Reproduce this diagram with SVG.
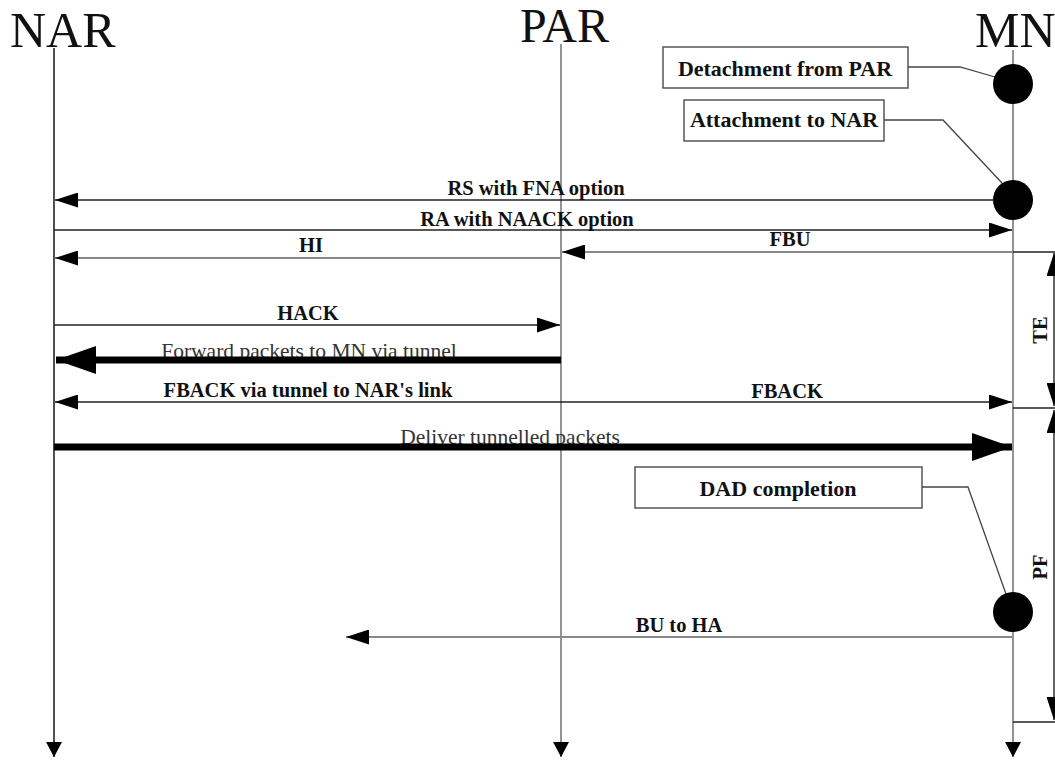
<svg xmlns="http://www.w3.org/2000/svg" width="1055" height="761" viewBox="0 0 1055 761">
  <style>
    .title { font-family: "Liberation Serif", "Times New Roman", serif; font-size: 50px; fill: #111; }
    .lbl { font-family: "Liberation Serif", "Times New Roman", serif; font-size: 20.5px; font-weight: bold; fill: #111; text-anchor: middle; }
    .plain { font-family: "Liberation Serif", "Times New Roman", serif; font-size: 21.5px; fill: #333; text-anchor: middle; }
    .note { font-family: "Liberation Serif", "Times New Roman", serif; font-size: 22px; font-weight: bold; fill: #111; text-anchor: middle; }
    .box { fill: #fff; stroke: #555; stroke-width: 1.5; }
    .lead { fill: none; stroke: #444; stroke-width: 1.3; }
    .life-dark { stroke: #222; stroke-width: 1.6; }
    .life-grey { stroke: #888; stroke-width: 1.8; }
    .msg-dark { stroke: #222; stroke-width: 1.4; fill: none; }
    .msg-grey { stroke: #888; stroke-width: 2; fill: none; }
    .thick { stroke: #000; stroke-width: 7; fill: none; }
    .dot { fill: #000; }
  </style>
  <defs>
    <marker id="ah" markerUnits="userSpaceOnUse" markerWidth="23" markerHeight="15" refX="23" refY="7.5" orient="auto-start-reverse">
      <path d="M0,0 L23,7.5 L0,15 z" fill="#000"/>
    </marker>
    <marker id="lh" markerUnits="userSpaceOnUse" markerWidth="16" markerHeight="16" refX="15" refY="8" orient="auto">
      <path d="M0,0 L15,8 L0,16 z" fill="#000"/>
    </marker>
    <marker id="big" markerUnits="userSpaceOnUse" markerWidth="40" markerHeight="28" refX="40" refY="14" orient="auto">
      <path d="M0,0 L40,14 L0,28 z" fill="#000"/>
    </marker>
  </defs>

  <rect width="1055" height="761" fill="#fff"/>

  <!-- Lifelines with their titles -->
  <g id="NAR">
    <text class="title" x="10" y="47">NAR</text>
    <line class="life-dark" x1="54" y1="48" x2="54" y2="757" marker-end="url(#lh)"/>
  </g>
  <g id="PAR">
    <text class="title" x="520" y="42" style="font-size:48px">PAR</text>
    <line class="life-grey" x1="561" y1="44" x2="561" y2="757" marker-end="url(#lh)"/>
  </g>
  <g id="MN">
    <text class="title" x="975" y="47">MN</text>
    <line class="life-grey" x1="1013" y1="50" x2="1013" y2="757" marker-end="url(#lh)"/>
  </g>

  <!-- Event notes on the MN lifeline -->
  <g id="detachment">
    <rect class="box" x="663" y="47" width="245" height="41"/>
    <text class="note" x="785" y="76">Detachment from PAR</text>
    <polyline class="lead" points="908,67 960,67 995,77"/>
    <circle class="dot" cx="1013" cy="84" r="20"/>
  </g>
  <g id="attachment">
    <rect class="box" x="684" y="100" width="200" height="41"/>
    <text class="note" x="784" y="127">Attachment to NAR</text>
    <polyline class="lead" points="884,120 943,120 1002,183"/>
    <circle class="dot" cx="1013" cy="200" r="20"/>
  </g>
  <g id="dad">
    <rect class="box" x="635" y="467" width="287" height="41"/>
    <text class="note" x="778" y="496">DAD completion</text>
    <polyline class="lead" points="922,487 968,487 1006,594"/>
    <circle class="dot" cx="1013" cy="612" r="20"/>
  </g>

  <!-- Time intervals -->
  <g id="TE">
    <line class="msg-dark" x1="1013" y1="252" x2="1055" y2="252"/>
    <line class="msg-dark" x1="1054" y1="253" x2="1054" y2="406" marker-start="url(#ah)" marker-end="url(#ah)"/>
    <text class="lbl" transform="translate(1047,330) rotate(-90)">TE</text>
  </g>
  <g id="PF">
    <line class="msg-dark" x1="1013" y1="408" x2="1055" y2="408"/>
    <line class="msg-dark" x1="1013" y1="722" x2="1055" y2="722"/>
    <line class="msg-dark" x1="1054" y1="410" x2="1054" y2="720" marker-start="url(#ah)" marker-end="url(#ah)"/>
    <text class="lbl" transform="translate(1047,567) rotate(-90)">PF</text>
  </g>

  <!-- Messages -->
  <g id="connectors">
    <line class="msg-dark" x1="993" y1="200" x2="55" y2="200" marker-end="url(#ah)"/>
    <text class="lbl" x="536" y="195">RS with FNA option</text>

    <line class="msg-dark" x1="54" y1="230" x2="1012" y2="230" marker-end="url(#ah)"/>
    <text class="lbl" x="527" y="226">RA with NAACK option</text>

    <line class="msg-grey" x1="561" y1="258" x2="55" y2="258" marker-end="url(#ah)"/>
    <text class="lbl" x="311" y="252">HI</text>

    <line class="msg-grey" x1="1013" y1="252" x2="562" y2="252" marker-end="url(#ah)"/>
    <text class="lbl" x="790" y="246">FBU</text>

    <line class="msg-dark" x1="54" y1="325" x2="560" y2="325" marker-end="url(#ah)"/>
    <text class="lbl" x="308" y="320">HACK</text>

    <text class="plain" x="309" y="358">Forward packets to MN via tunnel</text>
    <line class="thick" x1="561" y1="360" x2="56" y2="360" marker-end="url(#big)"/>

    <line class="msg-dark" x1="561" y1="402" x2="55" y2="402" marker-end="url(#ah)"/>
    <text class="lbl" x="308" y="397">FBACK via tunnel to NAR's link</text>
    <line class="msg-dark" x1="561" y1="402" x2="1012" y2="402" marker-end="url(#ah)"/>
    <text class="lbl" x="787" y="398">FBACK</text>

    <text class="plain" x="510" y="444">Deliver tunnelled packets</text>
    <line class="thick" x1="54" y1="447" x2="1012" y2="447" marker-end="url(#big)"/>

    <line class="msg-grey" x1="1013" y1="637" x2="346" y2="637" marker-end="url(#ah)"/>
    <text class="lbl" x="679" y="632">BU to HA</text>
  </g>
</svg>
